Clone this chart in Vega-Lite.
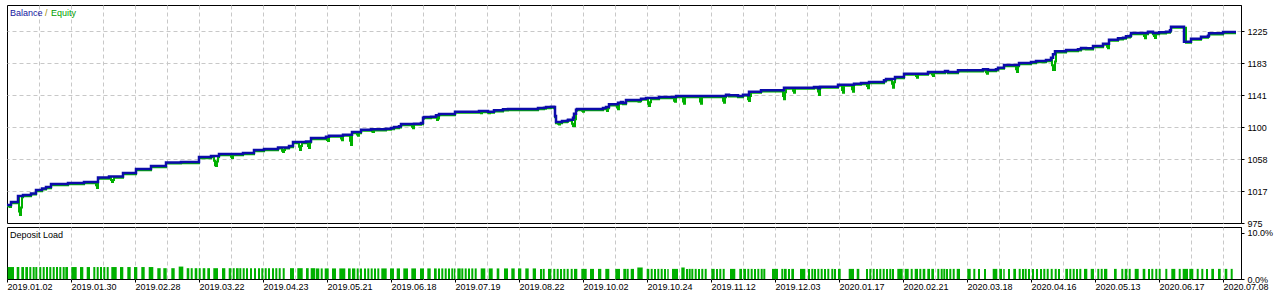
{
"$schema": "https://vega.github.io/schema/vega-lite/v6.json",
"padding": {"left": 1, "top": 4, "right": 0, "bottom": 0},
"bounds": "flush",
"spacing": 4,
"background": "#ffffff",
"config": {
  "view": {"stroke": "#000000", "strokeWidth": 1},
  "font": "Liberation Sans",
  "axis": {"labelFont": "Liberation Sans", "labelFontSize": 9, "labelColor": "#000000", "tickColor": "#000000", "domainColor": "#000000", "gridColor": "#c8c8c8", "gridDash": [4, 3], "gridOpacity": 1, "title": null, "labelOverlap": false, "labelFlush": false, "labelBound": false}
},
"datasets": {
"balance": [
{"n":1,"v":998.4},{"n":5,"v":1002.3},{"n":12,"v":1010.1},{"n":17,"v":1011.4},{"n":25,"v":1013.4},{"n":30,"v":1017.9},{"n":36,"v":1019.9},{"n":40,"v":1021.8},{"n":45,"v":1025.7},{"n":62,"v":1027.0},{"n":78,"v":1028.3},{"n":92,"v":1034.1},{"n":103,"v":1035.4},{"n":117,"v":1040.0},{"n":130,"v":1045.2},{"n":145,"v":1049.1},{"n":160,"v":1053.7},{"n":175,"v":1054.3},{"n":193,"v":1060.8},{"n":205,"v":1062.1},{"n":213,"v":1064.7},{"n":237,"v":1066.0},{"n":248,"v":1069.9},{"n":258,"v":1071.2},{"n":272,"v":1073.2},{"n":283,"v":1075.1},{"n":287,"v":1080.3},{"n":300,"v":1081.0},{"n":305,"v":1085.5},{"n":320,"v":1087.2},{"n":323,"v":1088.5},{"n":337,"v":1089.8},{"n":346,"v":1093.3},{"n":355,"v":1096.3},{"n":365,"v":1096.8},{"n":380,"v":1097.6},{"n":385,"v":1098.5},{"n":388,"v":1099.8},{"n":393,"v":1100.7},{"n":395,"v":1103.7},{"n":408,"v":1104.1},{"n":415,"v":1105.0},{"n":417,"v":1111.9},{"n":418,"v":1112.8},{"n":425,"v":1113.2},{"n":430,"v":1115.0},{"n":433,"v":1116.7},{"n":449,"v":1119.7},{"n":473,"v":1120.6},{"n":482,"v":1119.7},{"n":488,"v":1121.5},{"n":497,"v":1122.8},{"n":502,"v":1123.2},{"n":532,"v":1124.5},{"n":538,"v":1124.9},{"n":540,"v":1125.8},{"n":545,"v":1126.2},{"n":548,"v":1125.8},{"n":549,"v":1114.1},{"n":550,"v":1106.3},{"n":556,"v":1107.6},{"n":561,"v":1108.0},{"n":562,"v":1109.3},{"n":567,"v":1111.9},{"n":568,"v":1117.1},{"n":570,"v":1122.3},{"n":571,"v":1123.2},{"n":597,"v":1124.5},{"n":600,"v":1125.8},{"n":603,"v":1129.3},{"n":612,"v":1131.4},{"n":615,"v":1132.3},{"n":617,"v":1131.0},{"n":620,"v":1134.9},{"n":635,"v":1136.6},{"n":640,"v":1137.5},{"n":653,"v":1138.8},{"n":670,"v":1140.1},{"n":720,"v":1141.8},{"n":723,"v":1141.0},{"n":732,"v":1140.1},{"n":737,"v":1141.8},{"n":742,"v":1141.0},{"n":743,"v":1145.7},{"n":755,"v":1147.5},{"n":778,"v":1150.9},{"n":808,"v":1151.8},{"n":812,"v":1150.1},{"n":814,"v":1152.2},{"n":832,"v":1154.8},{"n":848,"v":1156.1},{"n":855,"v":1157.0},{"n":863,"v":1158.3},{"n":878,"v":1160.5},{"n":880,"v":1162.2},{"n":889,"v":1164.8},{"n":898,"v":1169.1},{"n":922,"v":1171.3},{"n":939,"v":1172.6},{"n":942,"v":1171.3},{"n":952,"v":1173.5},{"n":977,"v":1174.8},{"n":982,"v":1173.9},{"n":990,"v":1174.8},{"n":992,"v":1176.9},{"n":998,"v":1180.4},{"n":1013,"v":1183.0},{"n":1025,"v":1184.3},{"n":1030,"v":1185.6},{"n":1040,"v":1186.9},{"n":1045,"v":1189.9},{"n":1047,"v":1194.3},{"n":1049,"v":1198.2},{"n":1060,"v":1199.9},{"n":1072,"v":1200.8},{"n":1075,"v":1202.5},{"n":1080,"v":1202.1},{"n":1087,"v":1205.1},{"n":1097,"v":1208.1},{"n":1103,"v":1213.3},{"n":1112,"v":1215.1},{"n":1117,"v":1215.9},{"n":1120,"v":1217.7},{"n":1124,"v":1218.5},{"n":1125,"v":1222.0},{"n":1142,"v":1223.7},{"n":1147,"v":1222.0},{"n":1153,"v":1222.9},{"n":1160,"v":1223.7},{"n":1164,"v":1225.5},{"n":1165,"v":1230.2},{"n":1178,"v":1210.7},{"n":1185,"v":1214.6},{"n":1195,"v":1217.2},{"n":1202,"v":1218.5},{"n":1203,"v":1221.6},{"n":1217,"v":1223.3},{"n":1230,"v":1223.3}
],
"equity": [
{"n":1,"v":996.9},{"n":3,"v":996.5},{"n":4,"v":995.8},{"n":5,"v":1000.8},{"n":12,"v":1008.6},{"n":13,"v":990.0},{"n":14,"v":985.4},{"n":15,"v":995.0},{"n":16,"v":1008.6},{"n":17,"v":1009.9},{"n":25,"v":1011.9},{"n":30,"v":1016.4},{"n":36,"v":1018.4},{"n":40,"v":1020.3},{"n":45,"v":1024.2},{"n":62,"v":1025.5},{"n":78,"v":1026.8},{"n":90,"v":1024.0},{"n":91,"v":1020.5},{"n":92,"v":1032.6},{"n":103,"v":1033.9},{"n":105,"v":1031.0},{"n":106,"v":1028.3},{"n":107,"v":1031.0},{"n":108,"v":1033.9},{"n":117,"v":1038.5},{"n":130,"v":1043.7},{"n":145,"v":1047.6},{"n":160,"v":1052.2},{"n":175,"v":1052.8},{"n":193,"v":1059.3},{"n":205,"v":1060.6},{"n":208,"v":1056.0},{"n":209,"v":1050.0},{"n":210,"v":1049.1},{"n":211,"v":1055.0},{"n":212,"v":1060.6},{"n":213,"v":1063.2},{"n":225,"v":1061.0},{"n":226,"v":1059.5},{"n":227,"v":1063.2},{"n":237,"v":1064.5},{"n":248,"v":1068.4},{"n":258,"v":1069.7},{"n":272,"v":1071.7},{"n":276,"v":1069.0},{"n":277,"v":1067.3},{"n":278,"v":1070.0},{"n":279,"v":1071.7},{"n":283,"v":1073.6},{"n":287,"v":1078.8},{"n":293,"v":1074.0},{"n":294,"v":1069.9},{"n":295,"v":1075.0},{"n":296,"v":1078.8},{"n":300,"v":1079.5},{"n":302,"v":1075.0},{"n":303,"v":1072.5},{"n":304,"v":1079.5},{"n":305,"v":1084.0},{"n":320,"v":1085.7},{"n":321,"v":1083.0},{"n":322,"v":1081.6},{"n":323,"v":1087.0},{"n":335,"v":1085.0},{"n":336,"v":1082.5},{"n":337,"v":1088.3},{"n":344,"v":1082.0},{"n":345,"v":1076.4},{"n":346,"v":1091.8},{"n":351,"v":1090.0},{"n":352,"v":1088.5},{"n":353,"v":1091.8},{"n":355,"v":1094.8},{"n":365,"v":1095.3},{"n":366,"v":1094.0},{"n":367,"v":1093.3},{"n":368,"v":1095.3},{"n":380,"v":1096.1},{"n":385,"v":1097.0},{"n":388,"v":1098.3},{"n":393,"v":1099.2},{"n":395,"v":1102.2},{"n":406,"v":1100.0},{"n":407,"v":1098.1},{"n":408,"v":1102.6},{"n":415,"v":1103.5},{"n":417,"v":1110.4},{"n":418,"v":1111.3},{"n":425,"v":1111.7},{"n":430,"v":1113.5},{"n":431,"v":1108.9},{"n":432,"v":1111.0},{"n":433,"v":1115.2},{"n":449,"v":1118.2},{"n":473,"v":1119.1},{"n":474,"v":1118.5},{"n":475,"v":1117.6},{"n":476,"v":1119.1},{"n":482,"v":1118.2},{"n":483,"v":1117.6},{"n":484,"v":1118.2},{"n":488,"v":1120.0},{"n":497,"v":1121.3},{"n":502,"v":1121.7},{"n":532,"v":1123.0},{"n":538,"v":1123.4},{"n":540,"v":1124.3},{"n":545,"v":1124.7},{"n":548,"v":1124.3},{"n":549,"v":1112.6},{"n":550,"v":1104.8},{"n":552,"v":1104.0},{"n":553,"v":1103.0},{"n":554,"v":1104.8},{"n":556,"v":1106.1},{"n":561,"v":1106.5},{"n":562,"v":1107.8},{"n":566,"v":1104.0},{"n":567,"v":1101.1},{"n":568,"v":1101.1},{"n":569,"v":1110.0},{"n":570,"v":1120.8},{"n":571,"v":1121.7},{"n":576,"v":1120.8},{"n":577,"v":1119.5},{"n":578,"v":1121.7},{"n":597,"v":1123.0},{"n":600,"v":1124.3},{"n":601,"v":1120.6},{"n":602,"v":1124.3},{"n":603,"v":1127.8},{"n":611,"v":1125.0},{"n":612,"v":1122.8},{"n":613,"v":1129.9},{"n":615,"v":1130.8},{"n":617,"v":1129.5},{"n":620,"v":1133.4},{"n":632,"v":1133.0},{"n":633,"v":1132.7},{"n":634,"v":1133.4},{"n":635,"v":1135.1},{"n":640,"v":1136.0},{"n":642,"v":1130.0},{"n":643,"v":1127.1},{"n":644,"v":1132.0},{"n":645,"v":1136.0},{"n":653,"v":1137.3},{"n":668,"v":1134.0},{"n":669,"v":1132.7},{"n":670,"v":1138.6},{"n":677,"v":1133.0},{"n":678,"v":1130.1},{"n":679,"v":1138.6},{"n":694,"v":1133.0},{"n":695,"v":1130.1},{"n":696,"v":1138.6},{"n":717,"v":1134.0},{"n":718,"v":1131.4},{"n":719,"v":1138.6},{"n":720,"v":1140.3},{"n":723,"v":1139.5},{"n":732,"v":1138.6},{"n":737,"v":1140.3},{"n":742,"v":1136.0},{"n":743,"v":1133.6},{"n":744,"v":1140.0},{"n":745,"v":1144.2},{"n":755,"v":1146.0},{"n":777,"v":1140.0},{"n":778,"v":1135.8},{"n":779,"v":1145.0},{"n":780,"v":1149.4},{"n":787,"v":1147.0},{"n":788,"v":1144.4},{"n":789,"v":1149.4},{"n":808,"v":1150.3},{"n":812,"v":1146.0},{"n":813,"v":1141.4},{"n":814,"v":1150.7},{"n":832,"v":1153.3},{"n":836,"v":1148.0},{"n":837,"v":1144.4},{"n":838,"v":1153.3},{"n":846,"v":1149.0},{"n":847,"v":1145.7},{"n":848,"v":1154.6},{"n":855,"v":1155.5},{"n":861,"v":1153.0},{"n":862,"v":1150.1},{"n":863,"v":1156.8},{"n":878,"v":1159.0},{"n":880,"v":1160.7},{"n":886,"v":1156.0},{"n":887,"v":1150.9},{"n":888,"v":1158.0},{"n":889,"v":1163.3},{"n":898,"v":1167.6},{"n":910,"v":1166.0},{"n":911,"v":1163.9},{"n":912,"v":1167.6},{"n":922,"v":1169.8},{"n":926,"v":1168.0},{"n":927,"v":1166.1},{"n":928,"v":1169.8},{"n":939,"v":1171.1},{"n":942,"v":1169.8},{"n":952,"v":1172.0},{"n":977,"v":1173.3},{"n":980,"v":1171.0},{"n":981,"v":1169.1},{"n":982,"v":1172.4},{"n":990,"v":1173.3},{"n":992,"v":1175.4},{"n":998,"v":1178.9},{"n":1010,"v":1175.0},{"n":1011,"v":1171.3},{"n":1012,"v":1178.9},{"n":1013,"v":1181.5},{"n":1025,"v":1182.8},{"n":1030,"v":1184.1},{"n":1040,"v":1185.4},{"n":1045,"v":1188.4},{"n":1046,"v":1180.0},{"n":1047,"v":1174.0},{"n":1048,"v":1173.9},{"n":1049,"v":1185.0},{"n":1050,"v":1196.7},{"n":1060,"v":1198.4},{"n":1072,"v":1199.3},{"n":1075,"v":1201.0},{"n":1080,"v":1200.6},{"n":1087,"v":1203.6},{"n":1097,"v":1206.6},{"n":1101,"v":1204.0},{"n":1102,"v":1202.1},{"n":1103,"v":1211.8},{"n":1112,"v":1213.6},{"n":1117,"v":1214.4},{"n":1120,"v":1216.2},{"n":1124,"v":1217.0},{"n":1125,"v":1220.5},{"n":1138,"v":1218.0},{"n":1139,"v":1215.1},{"n":1140,"v":1220.5},{"n":1142,"v":1222.2},{"n":1147,"v":1220.5},{"n":1148,"v":1218.0},{"n":1149,"v":1215.5},{"n":1150,"v":1220.5},{"n":1153,"v":1221.4},{"n":1160,"v":1222.2},{"n":1164,"v":1224.0},{"n":1165,"v":1228.7},{"n":1180,"v":1209.2},{"n":1185,"v":1213.1},{"n":1195,"v":1215.7},{"n":1202,"v":1217.0},{"n":1203,"v":1220.1},{"n":1217,"v":1221.8},{"n":1230,"v":1221.8}
],
"load": [
{"a":1.7,"b":8.0,"p":2.6},{"a":10.7,"b":13.3,"p":2.6},{"a":15.3,"b":18.0,"p":2.6},{"a":19.3,"b":22.0,"p":2.6},{"a":23.3,"b":25.3,"p":2.6},{"a":26.7,"b":28.7,"p":2.6},{"a":29.3,"b":31.3,"p":2.6},{"a":33.3,"b":35.3,"p":2.6},{"a":36.7,"b":38.7,"p":2.6},{"a":40.0,"b":42.0,"p":2.6},{"a":43.3,"b":45.3,"p":2.6},{"a":46.7,"b":48.7,"p":2.6},{"a":50.0,"b":52.0,"p":2.6},{"a":53.3,"b":55.3,"p":2.6},{"a":56.7,"b":58.7,"p":2.6},{"a":59.3,"b":62.0,"p":2.6},{"a":65.3,"b":70.7,"p":2.6},{"a":74.0,"b":77.3,"p":2.6},{"a":80.7,"b":84.0,"p":2.6},{"a":87.3,"b":89.3,"p":2.6},{"a":90.7,"b":92.7,"p":2.6},{"a":94.0,"b":96.0,"p":2.6},{"a":97.3,"b":99.3,"p":2.6},{"a":100.7,"b":102.7,"p":2.6},{"a":105.3,"b":110.7,"p":2.6},{"a":114.0,"b":117.3,"p":2.6},{"a":121.3,"b":124.7,"p":2.6},{"a":128.0,"b":131.3,"p":2.6},{"a":135.3,"b":138.7,"p":2.6},{"a":142.7,"b":147.3,"p":2.6},{"a":151.3,"b":154.7,"p":2.35},{"a":157.3,"b":160.7,"p":2.35},{"a":165.3,"b":168.7,"p":2.35},{"a":172.7,"b":177.3,"p":2.7},{"a":180.7,"b":183.3,"p":2.35},{"a":184.7,"b":186.7,"p":2.35},{"a":188.7,"b":191.3,"p":2.35},{"a":192.7,"b":194.7,"p":2.35},{"a":196.7,"b":199.3,"p":2.35},{"a":201.3,"b":204.0,"p":2.35},{"a":207.3,"b":212.0,"p":2.35},{"a":216.0,"b":219.3,"p":2.35},{"a":222.7,"b":225.3,"p":2.35},{"a":226.7,"b":228.7,"p":2.35},{"a":230.0,"b":232.7,"p":2.35},{"a":233.3,"b":235.3,"p":2.35},{"a":236.7,"b":238.7,"p":2.35},{"a":240.0,"b":242.0,"p":2.35},{"a":244.0,"b":246.0,"p":2.35},{"a":248.0,"b":250.0,"p":2.35},{"a":252.0,"b":254.0,"p":2.35},{"a":255.3,"b":257.3,"p":2.35},{"a":258.7,"b":260.7,"p":2.35},{"a":262.0,"b":264.0,"p":2.35},{"a":266.0,"b":268.0,"p":2.35},{"a":269.3,"b":271.3,"p":2.35},{"a":272.7,"b":274.7,"p":2.35},{"a":276.7,"b":278.7,"p":2.35},{"a":284.0,"b":288.0,"p":2.35},{"a":291.3,"b":296.7,"p":2.35},{"a":300.0,"b":302.7,"p":2.35},{"a":304.7,"b":309.3,"p":2.35},
{"a":310.0,"b":313.3,"p":2.3},{"a":314.7,"b":316.7,"p":2.3},{"a":318.7,"b":322.7,"p":2.3},{"a":326.0,"b":330.0,"p":2.3},{"a":333.3,"b":339.3,"p":2.3},{"a":342.0,"b":344.7,"p":2.3},{"a":346.0,"b":349.3,"p":2.3},{"a":350.7,"b":352.7,"p":2.3},{"a":354.0,"b":356.0,"p":2.3},{"a":358.0,"b":360.0,"p":2.3},{"a":361.3,"b":363.3,"p":2.3},{"a":364.7,"b":366.7,"p":2.3},{"a":368.0,"b":370.0,"p":2.3},{"a":371.3,"b":373.3,"p":2.3},{"a":375.3,"b":380.7,"p":2.3},{"a":384.0,"b":388.0,"p":2.3},{"a":390.7,"b":394.0,"p":2.3},{"a":397.3,"b":402.0,"p":2.3},{"a":405.3,"b":410.0,"p":2.3},{"a":414.0,"b":418.0,"p":2.3},{"a":421.3,"b":424.7,"p":2.3},{"a":428.0,"b":430.7,"p":2.3},{"a":432.0,"b":434.0,"p":2.3},{"a":435.3,"b":437.3,"p":2.3},{"a":438.7,"b":440.7,"p":2.3},{"a":442.0,"b":444.0,"p":2.3},{"a":445.3,"b":447.3,"p":2.3},{"a":448.0,"b":449.3,"p":2.3},{"a":451.3,"b":454.7,"p":2.3},{"a":455.3,"b":457.3,"p":2.3},{"a":458.7,"b":460.7,"p":2.3},{"a":462.0,"b":464.0,"p":2.3},{"a":465.3,"b":467.3,"p":2.3},{"a":468.7,"b":470.7,"p":2.3},{"a":474.7,"b":479.3,"p":2.3},{"a":482.7,"b":486.7,"p":2.3},{"a":490.7,"b":493.3,"p":2.3},{"a":498.0,"b":502.0,"p":2.3},{"a":505.3,"b":508.7,"p":2.3},{"a":512.0,"b":515.3,"p":2.3},{"a":519.3,"b":522.7,"p":2.3},{"a":526.7,"b":530.0,"p":2.3},{"a":534.0,"b":536.0,"p":2.2},{"a":536.7,"b":538.7,"p":2.2},{"a":542.0,"b":545.3,"p":2.2},{"a":547.3,"b":549.3,"p":2.2},{"a":550.7,"b":552.7,"p":2.2},{"a":554.0,"b":556.0,"p":2.2},{"a":557.3,"b":559.3,"p":2.2},{"a":560.7,"b":562.7,"p":2.2},{"a":564.7,"b":566.7,"p":2.2},{"a":568.0,"b":571.3,"p":2.2},{"a":575.3,"b":580.7,"p":2.2},{"a":584.0,"b":588.0,"p":2.2},{"a":592.0,"b":595.3,"p":2.2},{"a":599.3,"b":603.3,"p":2.2},{"a":609.3,"b":614.0,"p":2.2},{"a":617.3,"b":620.0,"p":2.2},
{"a":620.5,"b":622.7,"p":2.2},{"a":624.7,"b":628.0,"p":2.2},{"a":631.3,"b":636.7,"p":2.5},{"a":640.7,"b":643.3,"p":2.2},{"a":644.7,"b":646.7,"p":2.2},{"a":648.0,"b":650.0,"p":2.2},{"a":651.3,"b":653.3,"p":2.2},{"a":654.7,"b":656.7,"p":2.2},{"a":658.0,"b":660.0,"p":2.2},{"a":661.3,"b":662.7,"p":2.2},{"a":666.0,"b":672.0,"p":2.2},{"a":675.3,"b":678.7,"p":2.5},{"a":680.0,"b":682.0,"p":2.2},{"a":682.7,"b":684.7,"p":2.2},{"a":685.3,"b":687.3,"p":2.2},{"a":688.7,"b":690.7,"p":2.2},{"a":692.0,"b":694.0,"p":2.2},{"a":695.3,"b":697.3,"p":2.2},{"a":698.7,"b":700.7,"p":2.2},{"a":705.3,"b":708.7,"p":2.2},{"a":710.0,"b":712.0,"p":2.2},{"a":713.3,"b":715.3,"p":2.2},{"a":716.7,"b":718.7,"p":2.2},{"a":724.0,"b":729.3,"p":2.2},{"a":733.3,"b":736.0,"p":2.2},{"a":737.3,"b":740.0,"p":2.2},{"a":741.3,"b":743.3,"p":2.2},{"a":744.7,"b":746.7,"p":2.2},{"a":748.0,"b":750.0,"p":2.2},{"a":751.3,"b":753.3,"p":2.2},{"a":754.7,"b":756.7,"p":2.2},{"a":757.3,"b":759.3,"p":2.2},{"a":766.0,"b":772.0,"p":2.2},{"a":775.3,"b":777.3,"p":2.2},{"a":778.0,"b":780.7,"p":2.2},{"a":782.0,"b":784.0,"p":2.2},{"a":785.3,"b":788.0,"p":2.2},{"a":794.0,"b":799.3,"p":2.2},{"a":802.0,"b":804.0,"p":2.2},{"a":805.3,"b":807.3,"p":2.2},{"a":808.0,"b":810.0,"p":2.2},{"a":811.3,"b":813.3,"p":2.2},{"a":814.7,"b":816.7,"p":2.2},{"a":818.0,"b":820.0,"p":2.2},{"a":821.3,"b":823.3,"p":2.2},{"a":825.3,"b":827.3,"p":2.2},{"a":828.0,"b":830.0,"p":2.2},{"a":832.0,"b":834.7,"p":2.2},{"a":842.7,"b":848.0,"p":2.2},{"a":850.7,"b":853.3,"p":2.2},{"a":860.0,"b":862.0,"p":2.2},{"a":863.3,"b":865.3,"p":2.2},{"a":866.7,"b":868.7,"p":2.2},{"a":870.0,"b":872.0,"p":2.2},{"a":873.3,"b":875.3,"p":2.2},{"a":876.7,"b":878.7,"p":2.2},{"a":880.0,"b":882.0,"p":2.2},{"a":883.3,"b":885.3,"p":2.2},{"a":886.0,"b":888.0,"p":2.2},{"a":891.3,"b":896.7,"p":2.2},{"a":898.7,"b":902.7,"p":2.2},{"a":904.7,"b":906.7,"p":2.2},{"a":908.7,"b":912.0,"p":2.2},{"a":913.3,"b":915.3,"p":2.2},{"a":916.7,"b":919.3,"p":2.2},{"a":921.3,"b":924.0,"p":2.2},{"a":925.3,"b":928.0,"p":2.2},
{"a":931.3,"b":933.3,"p":2.2},{"a":934.7,"b":936.7,"p":2.2},{"a":937.3,"b":939.3,"p":2.2},{"a":940.0,"b":942.0,"p":2.2},{"a":943.3,"b":945.3,"p":2.2},{"a":946.7,"b":948.7,"p":2.2},{"a":950.7,"b":954.0,"p":2.2},{"a":961.3,"b":964.7,"p":2.2},{"a":967.3,"b":969.3,"p":2.2},{"a":972.0,"b":974.0,"p":2.2},{"a":978.0,"b":980.0,"p":2.2},{"a":986.7,"b":991.3,"p":2.2},{"a":993.3,"b":996.0,"p":2.2},{"a":997.3,"b":998.7,"p":2.2},{"a":1002.0,"b":1004.0,"p":2.2},{"a":1007.3,"b":1010.0,"p":2.2},{"a":1012.7,"b":1014.7,"p":2.2},{"a":1016.0,"b":1018.0,"p":2.2},{"a":1018.7,"b":1020.7,"p":2.2},{"a":1022.0,"b":1024.0,"p":2.2},{"a":1026.0,"b":1028.0,"p":2.2},{"a":1030.0,"b":1032.0,"p":2.2},{"a":1034.0,"b":1036.0,"p":2.2},{"a":1037.3,"b":1039.3,"p":2.2},{"a":1040.7,"b":1042.7,"p":2.2},{"a":1044.7,"b":1046.7,"p":2.2},{"a":1048.7,"b":1050.7,"p":2.2},{"a":1052.0,"b":1054.0,"p":2.2},{"a":1059.3,"b":1062.0,"p":2.2},{"a":1063.3,"b":1065.3,"p":2.2},{"a":1066.7,"b":1068.7,"p":2.2},{"a":1070.0,"b":1072.0,"p":2.2},{"a":1073.3,"b":1075.3,"p":2.2},{"a":1078.0,"b":1081.3,"p":2.2},{"a":1084.7,"b":1088.0,"p":2.2},{"a":1091.3,"b":1093.3,"p":2.2},{"a":1094.7,"b":1096.7,"p":2.2},{"a":1098.0,"b":1101.3,"p":2.2},{"a":1108.0,"b":1110.7,"p":2.2},{"a":1115.3,"b":1117.3,"p":2.2},{"a":1118.7,"b":1121.3,"p":2.2},{"a":1122.7,"b":1124.7,"p":2.2},{"a":1128.7,"b":1132.7,"p":2.2},{"a":1136.7,"b":1139.3,"p":2.2},{"a":1142.0,"b":1144.0,"p":2.2},{"a":1145.3,"b":1147.3,"p":2.2},{"a":1149.3,"b":1151.3,"p":2.2},{"a":1152.7,"b":1154.7,"p":2.2},{"a":1159.3,"b":1161.3,"p":2.2},{"a":1165.3,"b":1169.3,"p":2.2},{"a":1172.7,"b":1174.7,"p":2.2},{"a":1176.7,"b":1182.0,"p":2.2},{"a":1183.3,"b":1187.3,"p":2.2},{"a":1190.7,"b":1192.7,"p":2.2},{"a":1195.3,"b":1197.3,"p":2.2},{"a":1200.0,"b":1202.0,"p":2.2},{"a":1205.3,"b":1208.0,"p":2.2},{"a":1212.0,"b":1214.7,"p":2.2},{"a":1218.7,"b":1221.3,"p":2.2},{"a":1224.7,"b":1226.7,"p":2.2}
]
},
"vconcat": [
{
  "width": 1234, "height": 218,
  "layer": [
    {"data": {"name": "equity"},
     "mark": {"type": "line", "interpolate": "step-after", "color": "#00b000", "strokeWidth": 2},
     "encoding": {
       "x": {"field": "n", "type": "quantitative", "scale": {"domain": [1, 1235], "nice": false, "zero": false},
             "axis": {"orient": "bottom", "tickCount": 100, "values": [33,65,97,129,161,193,225,257,289,321,353,385,417,449,481,513,545,577,609,641,673,705,737,769,801,833,865,897,929,961,993,1025,1057,1089,1121,1153,1185,1217], "grid": true, "labels": false, "ticks": false, "domain": false}},
       "y": {"field": "v", "type": "quantitative", "scale": {"domain": [975, 1258.4], "nice": false, "zero": false},
             "axis": {"orient": "right", "tickCount": 20, "values": [975, 1016.6, 1058.2, 1099.8, 1141.4, 1183, 1224.6], "format": ".0f", "grid": true, "gridOpacity": {"condition": {"test": "datum.value < 980", "value": 0}, "value": 1}, "tickSize": 3, "labelPadding": 3, "domain": true}}
     }},
    {"data": {"name": "balance"},
     "mark": {"type": "line", "interpolate": "step-after", "color": "#0c0caa", "strokeWidth": 2.5},
     "encoding": {"x": {"field": "n", "type": "quantitative"}, "y": {"field": "v", "type": "quantitative"}}},
    {"data": {"values": [{"t": "Balance"}]},
     "mark": {"type": "text", "align": "left", "baseline": "middle", "fontSize": 9, "font": "Liberation Sans", "color": "#1414a0"},
     "encoding": {"text": {"field": "t"}, "x": {"datum": 4, "type": "quantitative"}, "y": {"datum": 1248, "type": "quantitative"}}},
    {"data": {"values": [{"t": "/"}]},
     "mark": {"type": "text", "align": "left", "baseline": "middle", "fontSize": 9, "font": "Liberation Sans", "color": "#a08c00"},
     "encoding": {"text": {"field": "t"}, "x": {"datum": 39, "type": "quantitative"}, "y": {"datum": 1248, "type": "quantitative"}}},
    {"data": {"values": [{"t": "Equity"}]},
     "mark": {"type": "text", "align": "left", "baseline": "middle", "fontSize": 9, "font": "Liberation Sans", "color": "#00a000"},
     "encoding": {"text": {"field": "t"}, "x": {"datum": 45, "type": "quantitative"}, "y": {"datum": 1248, "type": "quantitative"}}}
  ]
},
{
  "width": 1234, "height": 52,
  "resolve": {"axis": {"x": "independent"}},
  "layer": [
    {"data": {"name": "load"},
     "mark": {"type": "rect", "color": "#00b000"},
     "encoding": {
       "x": {"field": "a", "type": "quantitative", "scale": {"domain": [1, 1235], "nice": false, "zero": false},
             "axis": {"orient": "bottom", "tickCount": 100, "values": [1,65,129,193,257,321,385,449,513,577,641,705,769,833,897,961,1025,1089,1153,1217],
                      "labelExpr": "['2019.01.02','2019.01.30','2019.02.28','2019.03.22','2019.04.23','2019.05.21','2019.06.18','2019.07.19','2019.08.22','2019.10.02','2019.10.24','2019.11.12','2019.12.03','2020.01.17','2020.02.21','2020.03.18','2020.04.16','2020.05.13','2020.06.17','2020.07.08'][round((datum.value-1)/64)]",
                      "grid": false, "ticks": true, "tickSize": 3, "labelAlign": "left", "labelBaseline": "top", "labelPadding": 0, "labelDx": 1, "domain": false}},
       "x2": {"field": "b"},
       "y": {"field": "p", "type": "quantitative", "scale": {"domain": [0, 11.3], "nice": false, "zero": true},
             "axis": {"orient": "right", "tickCount": 10, "values": [0, 10], "labelExpr": "format(datum.value, '.1f') + '%'", "grid": false, "tickSize": 3, "labelPadding": 3, "domain": true}},
       "y2": {"datum": 0}
     }},
    {"data": {"values": [{"t": "Deposit Load"}]},
     "mark": {"type": "text", "align": "left", "baseline": "middle", "fontSize": 9, "font": "Liberation Sans", "color": "#000000"},
     "encoding": {"text": {"field": "t"},
       "x": {"datum": 4, "type": "quantitative", "scale": {"domain": [1, 1235], "nice": false, "zero": false},
             "axis": {"orient": "top", "tickCount": 100, "values": [33,65,97,129,161,193,225,257,289,321,353,385,417,449,481,513,545,577,609,641,673,705,737,769,801,833,865,897,929,961,993,1025,1057,1089,1121,1153,1185,1217], "grid": true, "labels": false, "ticks": false, "domain": false}},
       "y": {"datum": 9.67, "type": "quantitative"}}}
  ]
}
]
}
